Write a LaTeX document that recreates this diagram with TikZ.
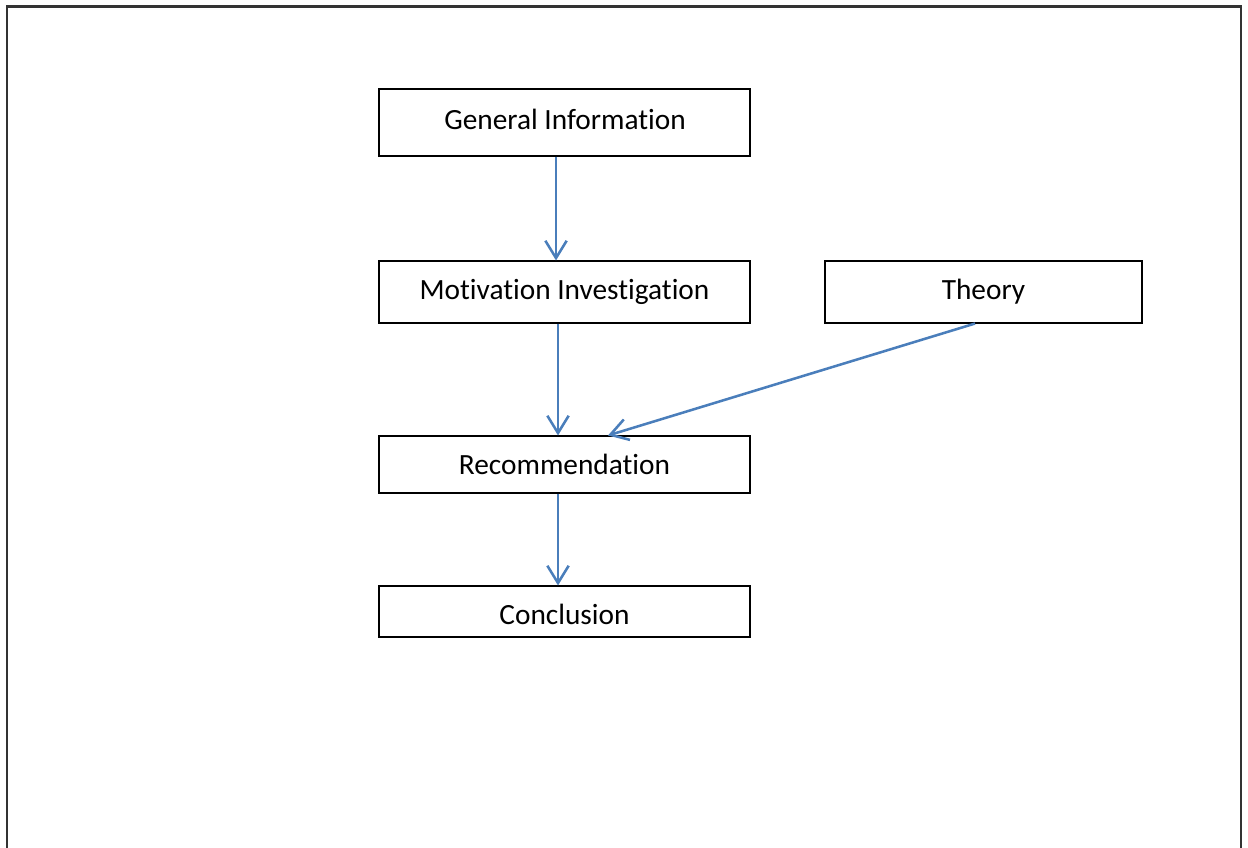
\documentclass[tikz,border=0pt]{standalone}
\usepackage{fontspec}
\setmainfont[Ligatures={NoCommon,NoContextual}]{Carlito}
\usetikzlibrary{arrows.meta}
\definecolor{arrowblue}{HTML}{4A7EBB}
\begin{document}
\begin{tikzpicture}[x=0.75pt,y=-0.75pt,
  box/.style={draw=black,line width=0.8pt,fill=white,inner sep=0pt,font=\fontsize{22}{24}\selectfont},
  conn/.style={draw=arrowblue,line width=1.9pt,-{Straight Barb[length=13pt,width=16pt,line width=1.9pt]}}]
\useasboundingbox (0,0) rectangle (1248,848);
\draw[line width=1.6pt,color=black!80] (7,850) -- (7,6.5) -- (1241,6.5) -- (1241,850);
\node[box,minimum width=371*0.75pt,minimum height=67*0.75pt] (gi) at (564.5,122.5) {};
\node[font=\fontsize{22}{24}\selectfont,inner sep=0pt] (gitext) at (565,119) {General Information};
\node[box,minimum width=371*0.75pt,minimum height=62*0.75pt] (mi) at (564.5,292) {Motivation Investigation};
\node[box,minimum width=317*0.75pt,minimum height=62*0.75pt] (th) at (983.5,292) {Theory};
\node[box,minimum width=371*0.75pt,minimum height=57*0.75pt] (rec) at (564.5,464.5) {Recommendation};
\node[box,minimum width=371*0.75pt,minimum height=51*0.75pt] (con) at (564.5,611.5) {};
\node[font=\fontsize{22}{24}\selectfont,inner sep=0pt] (context) at (564.5,614) {Conclusion};
\draw[conn] (gi.south -| 556,0) -- (mi.north -| 556,0);
\draw[conn] (mi.south -| 558,0) -- (rec.north -| 558,0);
\draw[conn] (th.south -| 975,0) -- (rec.north -| 608,0);
\draw[conn] (rec.south -| 558,0) -- (con.north -| 558,0);
\end{tikzpicture}
\end{document}
